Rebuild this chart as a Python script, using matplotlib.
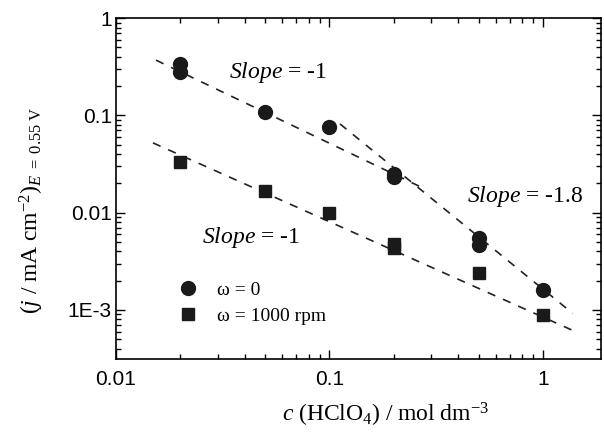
import numpy as np
import matplotlib
matplotlib.use("Agg")
import matplotlib.pyplot as plt
from matplotlib.ticker import FixedLocator, LogLocator, NullFormatter

plt.rcParams['mathtext.fontset'] = 'custom'
plt.rcParams['mathtext.rm'] = 'Liberation Serif'
plt.rcParams['mathtext.it'] = 'Liberation Serif:italic'

# omega = 0 (circles)
c_still = [0.02, 0.02, 0.05, 0.1, 0.2, 0.2, 0.5, 0.5, 1.0]
j_still = [0.335, 0.28, 0.109, 0.076, 0.025, 0.023, 0.0055, 0.0047, 0.0016]

# omega = 1000 rpm (squares)
c_rot = [0.02, 0.05, 0.1, 0.2, 0.2, 0.5, 1.0]
j_rot = [0.0333, 0.0168, 0.0100, 0.0048, 0.0043, 0.00237, 0.00088]

# guide lines (end points)
fit_upper_c = [0.0154, 0.266]
fit_upper_j = [0.37, 0.0185]
fit_steep_c = [0.112, 1.38]
fit_steep_j = [0.0818, 0.00092]
fit_lower_c = [0.0149, 1.44]
fit_lower_j = [0.0522, 0.00059]

yticks = [0.001, 0.01, 0.1, 1]
ytick_labels = ['1E-3', '0.01', '0.1', '1']
xticks = [0.01, 0.1, 1]
xtick_labels = ['0.01', '0.1', '1']

fig = plt.figure(figsize=(6.04, 4.32), dpi=100)
ax = fig.add_axes([0.192, 0.169, 0.803, 0.789])

dash = dict(color='#222222', lw=1.2, ls=(0, (5, 5)))
ax.plot(fit_upper_c, fit_upper_j, **dash)
ax.plot(fit_steep_c, fit_steep_j, **dash)
ax.plot(fit_lower_c, fit_lower_j, **dash)

ax.plot(c_still, j_still, 'o', color='#1a1a1a', ms=10, ls='none', label='ω = 0')
ax.plot(c_rot, j_rot, 's', color='#1a1a1a', ms=8, ls='none', label='ω = 1000 rpm')

ax.set_xscale('log')
ax.set_yscale('log')
ax.set_xlim(0.01, 1.87)
ax.set_ylim(3.13e-4, 1)

ax.xaxis.set_major_locator(FixedLocator(xticks))
ax.set_xticklabels(xtick_labels)
ax.yaxis.set_major_locator(FixedLocator(yticks))
ax.set_yticklabels(ytick_labels)
ax.xaxis.set_minor_locator(LogLocator(base=10, subs=np.arange(2, 10)))
ax.yaxis.set_minor_locator(LogLocator(base=10, subs=np.arange(2, 10)))
ax.xaxis.set_minor_formatter(NullFormatter())
ax.yaxis.set_minor_formatter(NullFormatter())

ax.tick_params(which='both', direction='in', top=True, right=True, width=1)
ax.tick_params(which='major', length=6.5)
ax.tick_params(which='minor', length=3.5)
ax.tick_params(axis='x', which='major', pad=8)
ax.tick_params(axis='y', which='major', pad=3)
for lab in ax.get_xticklabels() + ax.get_yticklabels():
    lab.set_family('Liberation Sans')
    lab.set_fontsize(15)
for s in ax.spines.values():
    s.set_linewidth(1.2)

ax.text(0.0574, 0.279, r'$\it{Slope}$ = -1', fontsize=17, family='Liberation Serif', ha='center', va='center')
ax.text(0.0428, 0.0056, r'$\it{Slope}$ = -1', fontsize=17, family='Liberation Serif', ha='center', va='center')
ax.text(0.824, 0.0148, r'$\it{Slope}$ = -1.8', fontsize=17, family='Liberation Serif', ha='center', va='center')

ax.text(-0.173, 0.437, r'$(j\ /\ \mathrm{mA\ cm}^{-2})_{E\ =\ 0.55\ \mathrm{V}}$', fontsize=17,
        rotation=90, ha='center', va='center', transform=ax.transAxes)
ax.text(0.555, -0.164, r'$c\ \mathrm{(HClO_4)\ /\ mol\ dm^{-3}}$', fontsize=17,
        ha='center', va='center', transform=ax.transAxes)

leg = ax.legend(loc='upper left', bbox_to_anchor=(0.13, 0.227), frameon=False,
                borderpad=0, borderaxespad=0, handlelength=0.9, handletextpad=1.05,
                labelspacing=0.4, prop={'family': 'Liberation Serif', 'size': 14})

fig.savefig('out.png', dpi=100)
